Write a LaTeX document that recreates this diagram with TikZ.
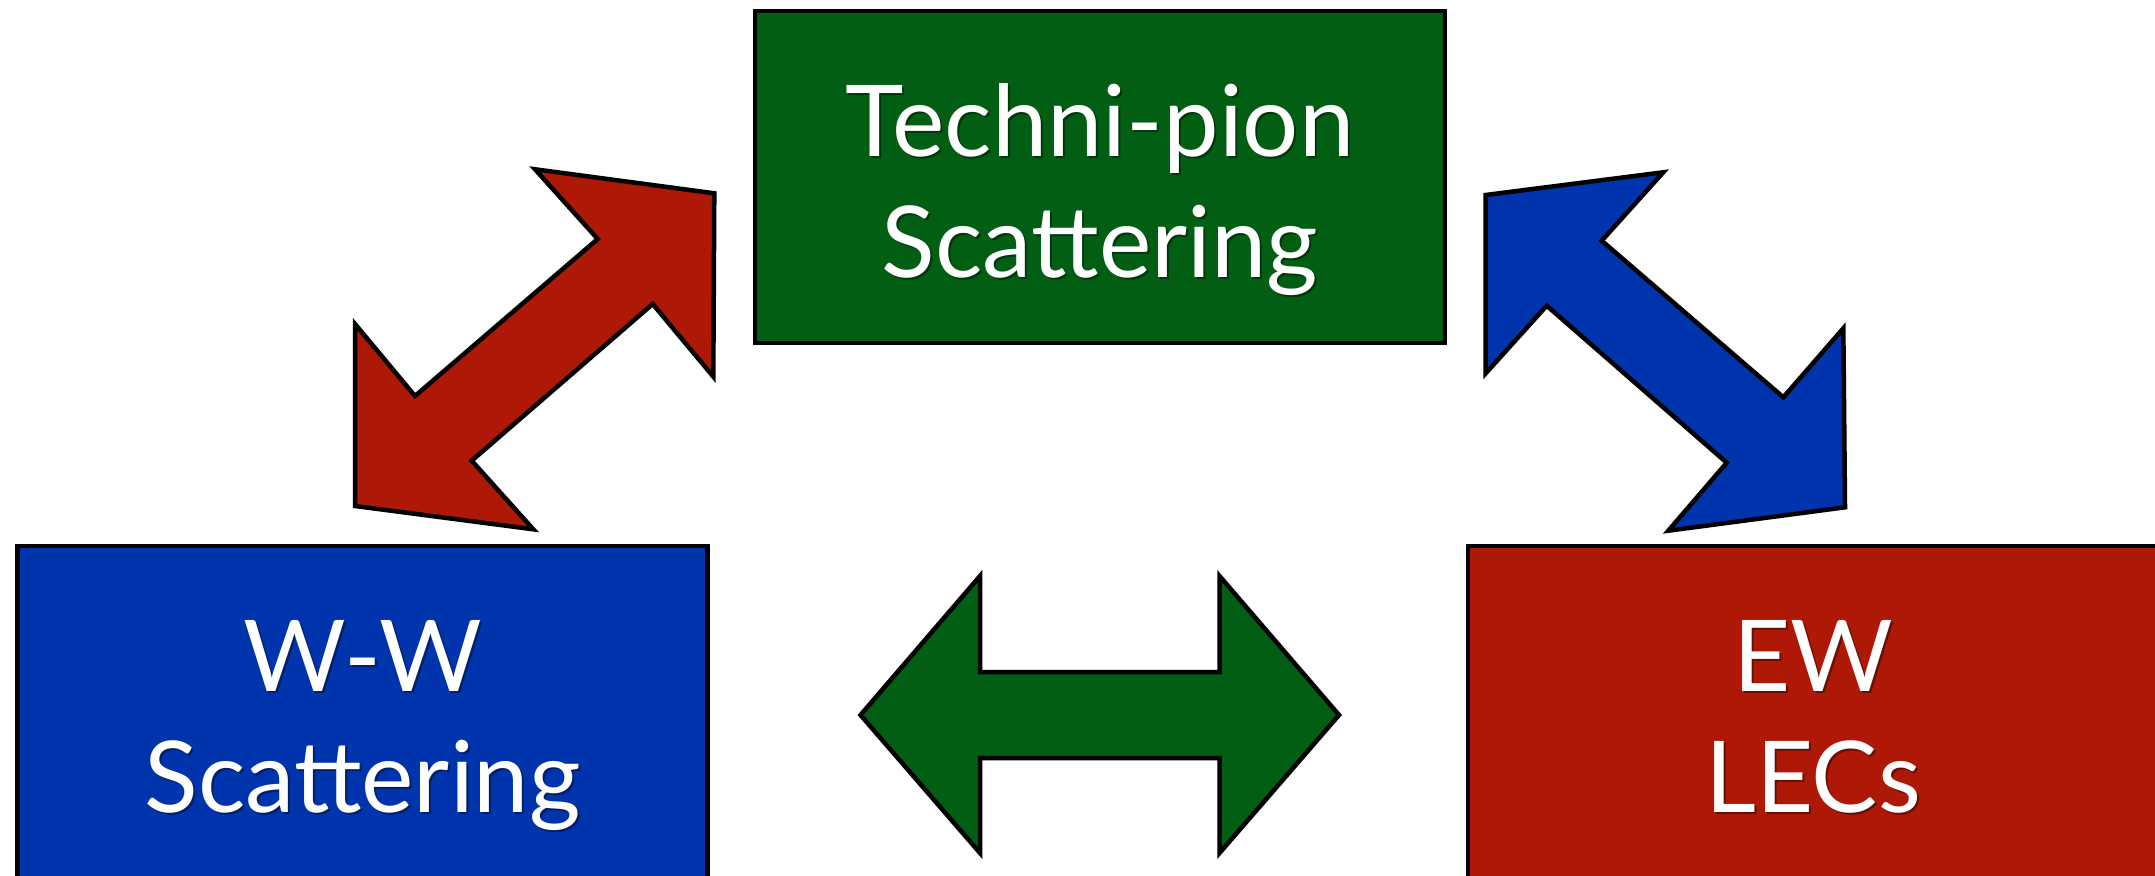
\documentclass[tikz,border=0pt]{standalone}
\usepackage{fontspec}
\setmainfont{Lato}
\definecolor{cgreen}{RGB}{2,94,19}
\definecolor{cblue}{RGB}{0,52,172}
\definecolor{cred}{RGB}{174,25,7}
\newcommand\boxtext[3]{%
  \raisebox{-0.17cm}[\height][\depth]{%
    \makebox[0pt][l]{\kern0.02cm\raisebox{-0.025cm}{\color{black!40!#1}\begin{tabular}{@{}c@{}}#2\\#3\end{tabular}}}%
    \begin{tabular}{@{}c@{}}#2\\#3\end{tabular}}}
\begin{document}
\begin{tikzpicture}[x=0.01cm,y=-0.01cm,
  box/.style={draw=black,line width=0.045cm,minimum width=6.9cm,minimum height=3.32cm,
    inner sep=0pt,text=white,font=\fontsize{28.2pt}{34.4pt}\selectfont},
  blockarrow/.style={draw=black,line width=0.045cm,line join=miter}]
\useasboundingbox (0,0) rectangle (2155,876);
\fill[white] (0,0) rectangle (2155,876);
% boxes
\node[box,fill=cgreen] (tp) at (1100,177) {\boxtext{cgreen}{Techni-pion}{Scattering}};
\node[box,fill=cblue] (ww) at (362.5,712) {\boxtext{cblue}{W-W}{Scattering}};
\node[box,fill=cred] (ew) at (1813,712) {\boxtext{cred}{EW}{LECs}};
% red double arrow (W-W <-> Techni-pion)
\draw[blockarrow,fill=cred] (535,169.3) -- (714.3,193.3) -- (713.3,376.7) -- (652.7,304)
  -- (471.7,460.7) -- (533.3,529.3) -- (355,506) -- (355,324) -- (415,396)
  -- (597.7,239) -- cycle;
% blue double arrow (Techni-pion <-> EW LECs)
\draw[blockarrow,fill=cblue] (1485.7,195) -- (1663.3,172.3) -- (1601.7,240.7)
  -- (1783.3,397.3) -- (1843.3,328.3) -- (1845,507.3) -- (1668.3,530.7)
  -- (1726.7,462.7) -- (1546.7,305.7) -- (1485.7,373.3) -- cycle;
% green double arrow (W-W <-> EW LECs)
\draw[blockarrow,fill=cgreen] (860.5,715) -- (980,576) -- (980,672) -- (1219.5,672)
  -- (1219.5,576) -- (1339,715) -- (1219.5,853) -- (1219.5,758) -- (980,758)
  -- (980,853) -- cycle;
\end{tikzpicture}
\end{document}
